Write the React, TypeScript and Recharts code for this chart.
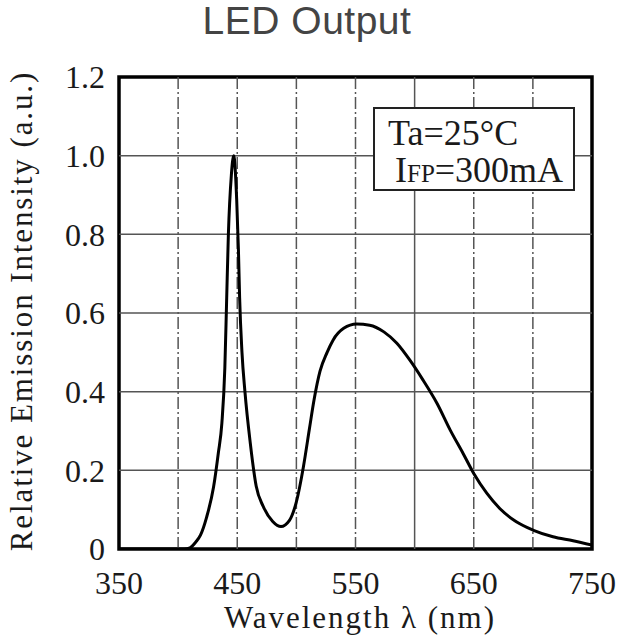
import { LineChart, Line, XAxis, YAxis, ReferenceLine, ReferenceArea } from 'recharts';

// spectrum
const wavelengths = [
  350, 380, 400, 405, 410, 415, 419, 424, 430, 434, 437, 439.5, 441, 442.5, 445, 447,
  449.5, 451, 452, 454, 456.5, 461, 466, 472, 480, 487, 494, 500, 506, 511, 515, 520,
  526, 531, 540, 551, 562, 574, 585, 596, 607, 619, 630, 641, 650, 661, 672, 686, 700,
  717, 734, 750,
];
const intensities = [
  0, 0, 0, 0, 0.003, 0.018, 0.036, 0.08, 0.158, 0.244, 0.32, 0.46, 0.63, 0.8, 0.95, 1.0,
  0.89, 0.76, 0.64, 0.5, 0.4, 0.27, 0.16, 0.108, 0.07, 0.057, 0.072, 0.12, 0.21, 0.305, 0.38, 0.452,
  0.5, 0.531, 0.561, 0.572, 0.569, 0.552, 0.523, 0.48, 0.43, 0.37, 0.303, 0.243, 0.192, 0.142, 0.103, 0.069, 0.048,
  0.031, 0.021, 0.01,
];

const xTicks = [350, 450, 550, 650, 750];
const yTicks = [0, 0.2, 0.4, 0.6, 0.8, 1.0, 1.2];
const gridX = [400, 450, 500, 550, 600, 650, 700];
const gridY = [0.2, 0.4, 0.6, 0.8, 1.0];

const data = wavelengths.map((nm, i) => ({ nm, value: intensities[i] }));

const serif = "'Liberation Serif', 'Times New Roman', Times, serif";

export default function App() {
  return (
    <div
      style={{
        position: 'absolute', left: 0, top: 0, width: 621, height: 643, background: '#fff',
        overflow: 'hidden', fontFamily: serif,
      }}
    >
      <LineChart
        width={621}
        height={643}
        data={data}
        margin={{ top: 77, right: 29, bottom: 54, left: 59 }}
        style={{ fontFamily: serif }}
      >
        <XAxis
          dataKey="nm"
          type="number"
          domain={[350, 750]}
          ticks={xTicks}
          allowDataOverflow
          height={40}
          tickLine={false}
          axisLine={false}
          tickSize={6}
          tickMargin={16}
          fontFamily={serif}
          fontSize={32}
          tick={{ fill: '#1a1a1a', fontFamily: serif, fontSize: 32 }}
        />
        <YAxis
          type="number"
          domain={[0, 1.2]}
          ticks={yTicks}
          allowDataOverflow
          width={60}
          tickLine={false}
          axisLine={false}
          tickSize={6}
          tickMargin={8}
          fontFamily={serif}
          fontSize={32}
          tickFormatter={(v: number) => (v === 0 ? '0' : v.toFixed(1))}
          tick={{ fill: '#1a1a1a', fontFamily: serif, fontSize: 32 }}
        />
        {gridX.map((v) => (
          <ReferenceLine
            key={'gx' + v}
            x={v}
            stroke="#555"
            strokeWidth={1.5}
            strokeDasharray={v === 600 ? undefined : '12 3 2 3'}
          />
        ))}
        {gridY.map((v) => (
          <ReferenceLine key={'gy' + v} y={v} stroke="#555" strokeWidth={1.5} />
        ))}
        <Line
          type="monotone"
          dataKey="value"
          stroke="#000"
          strokeWidth={3}
          dot={false}
          isAnimationActive={false}
        />
        <ReferenceArea x1={350} x2={750} y1={0} y2={1.2} fill="none" stroke="#000" strokeWidth={3.5} />
      </LineChart>

      {/* title */}
      <div
        style={{
          position: 'absolute', left: 0, top: 1, width: 614, textAlign: 'center',
          fontFamily: "'Liberation Sans', Arial, sans-serif", fontSize: 39, lineHeight: '39px',
          color: '#444', letterSpacing: 0.5,
        }}
      >
        LED Output
      </div>

      {/* y axis title */}
      <div
        style={{
          position: 'absolute', left: 22 - 260, top: 311 - 16, width: 520, height: 32,
          textAlign: 'center', fontFamily: serif, fontSize: 31, lineHeight: '32px',
          letterSpacing: 1.9, color: '#1a1a1a', transform: 'rotate(-90deg)', whiteSpace: 'nowrap',
        }}
      >
        Relative Emission Intensity (a.u.)
      </div>

      {/* x axis title */}
      <div
        style={{
          position: 'absolute', left: 160, top: 602, width: 400, textAlign: 'center',
          fontFamily: serif, fontSize: 31, lineHeight: '31px', letterSpacing: 2, color: '#1a1a1a',
          whiteSpace: 'nowrap',
        }}
      >
        Wavelength λ (nm)
      </div>

      {/* conditions box */}
      <div
        style={{
          position: 'absolute', left: 373, top: 107, width: 202, height: 84, boxSizing: 'border-box',
          border: '2px solid #222', background: '#fff', fontFamily: serif, color: '#1a1a1a',
        }}
      >
        <div style={{ position: 'absolute', left: 13, top: 6, fontSize: 36, lineHeight: '36px', whiteSpace: 'nowrap' }}>
          Ta=25°C
        </div>
        <div style={{ position: 'absolute', left: 20, top: 43, fontSize: 36, lineHeight: '36px', whiteSpace: 'nowrap' }}>
          I<span style={{ fontSize: 25 }}>FP</span>=300mA
        </div>
      </div>
    </div>
  );
}
